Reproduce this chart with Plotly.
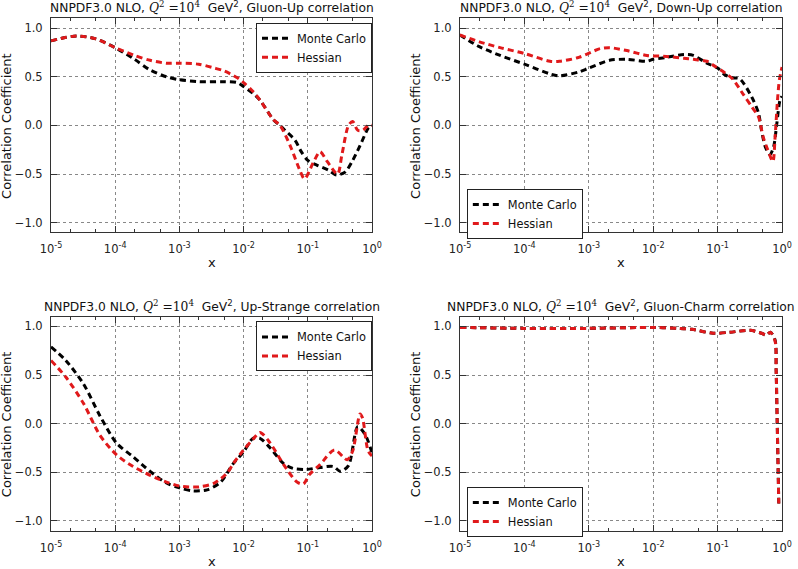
import plotly.graph_objects as go

# ---- data ----
tick_vals = [1e-5, 1e-4, 1e-3, 1e-2, 1e-1, 1e0]
tick_text = ["10<sup>-5</sup>", "10<sup>-4</sup>", "10<sup>-3</sup>",
             "10<sup>-2</sup>", "10<sup>-1</sup>", "10<sup>0</sup>"]

# Gluon-Up
gu_x_mc = [1e-5, 2.5e-5, 5e-5, 1e-4, 2e-4, 3.5e-4, 6.3e-4, 1e-3, 2e-3, 5e-3, 8e-3, 1e-2,
           1.4e-2, 1.8e-2, 2.9e-2, 3.7e-2, 4.4e-2, 6.3e-2, 7.9e-2, 0.1, 0.14, 0.21, 0.28,
           0.38, 0.5, 0.69, 0.87, 1.0]
gu_mc = [0.87, 0.92, 0.89, 0.80, 0.68, 0.57, 0.50, 0.47, 0.45, 0.45, 0.44, 0.40,
         0.33, 0.26, 0.06, 0.0, -0.05, -0.15, -0.27, -0.36, -0.41, -0.46, -0.51,
         -0.48, -0.36, -0.17, -0.03, 0.0]
gu_x_hs = [1e-5, 2.5e-5, 5e-5, 1e-4, 2e-4, 3.5e-4, 6.3e-4, 1e-3, 2e-3, 3.5e-3, 5e-3, 8e-3,
           1e-2, 1.4e-2, 1.8e-2, 2.9e-2, 3.7e-2, 5.4e-2, 7.4e-2, 8.9e-2, 0.12, 0.155, 0.2,
           0.29, 0.34, 0.43, 0.5, 0.6, 0.72, 0.87, 1.0]
gu_hs = [0.87, 0.92, 0.89, 0.80, 0.72, 0.67, 0.64, 0.64, 0.63, 0.59, 0.56, 0.49,
         0.44, 0.35, 0.26, 0.06, 0.0, -0.22, -0.45, -0.55, -0.39, -0.27, -0.37,
         -0.50, -0.30, 0.0, 0.04, -0.05, -0.05, 0.0, 0.0]

# Down-Up
du_x_mc = [1e-5, 2e-5, 4.2e-5, 1e-4, 2.5e-4, 3.5e-4, 7e-4, 1e-3, 2.1e-3, 3.9e-3, 8e-3,
           1e-2, 1.6e-2, 3e-2, 4.2e-2, 6.8e-2, 0.1, 0.13, 0.17, 0.22, 0.34, 0.43,
           0.48, 0.55, 0.65, 0.74, 0.83, 0.93, 1.0]
du_mc = [0.93, 0.81, 0.72, 0.63, 0.53, 0.51, 0.55, 0.59, 0.67, 0.68, 0.66,
         0.68, 0.70, 0.73, 0.72, 0.64, 0.59, 0.52, 0.49, 0.48, 0.29, 0.13,
         -0.05, -0.22, -0.30, -0.22, 0.02, 0.26, 0.30]
du_x_hs = [1e-5, 2e-5, 4.2e-5, 1e-4, 2.5e-4, 3.5e-4, 7e-4, 1.5e-3, 2.1e-3, 3.9e-3, 8e-3,
           1.6e-2, 3e-2, 4.2e-2, 6.8e-2, 9e-2, 0.13, 0.17, 0.25, 0.34, 0.43, 0.51,
           0.6, 0.72, 0.78, 0.85, 0.91, 1.0]
du_hs = [0.93, 0.86, 0.80, 0.74, 0.66, 0.66, 0.70, 0.79, 0.80, 0.77, 0.72,
         0.71, 0.69, 0.68, 0.66, 0.61, 0.54, 0.48, 0.32, 0.19, 0.09, -0.12,
         -0.25, -0.37, -0.12, 0.26, 0.47, 0.60]

# Up-Strange
us_x_mc = [1e-5, 1.7e-5, 3.2e-5, 5.8e-5, 1.05e-4, 1.9e-4, 3.5e-4, 6.3e-4, 1e-3,
           1.6e-3, 2.7e-3, 4.4e-3, 6.9e-3, 1e-2, 1.4e-2, 1.8e-2, 2.6e-2, 4.2e-2, 5.9e-2,
           9.5e-2, 0.155, 0.25, 0.32, 0.43, 0.6, 0.78, 1.0]
us_mc = [0.79, 0.65, 0.41, 0.08, -0.20, -0.34, -0.49, -0.61, -0.66,
         -0.69, -0.68, -0.60, -0.41, -0.29, -0.15, -0.15, -0.25, -0.41, -0.46,
         -0.47, -0.45, -0.44, -0.49, -0.43, -0.03, -0.11, -0.30]
us_x_hs = [1e-5, 1.7e-5, 3.2e-5, 5.8e-5, 1.05e-4, 1.9e-4, 3.5e-4, 6.3e-4, 1e-3,
           2e-3, 3.5e-3, 5.5e-3, 6.9e-3, 1e-2, 1.4e-2, 1.8e-2, 2.6e-2, 4.2e-2, 6.8e-2,
           8.5e-2, 0.107, 0.155, 0.26, 0.41, 0.5, 0.65, 0.71, 0.87, 1.0]
us_hs = [0.65, 0.48, 0.21, -0.12, -0.32, -0.44, -0.53, -0.60, -0.64,
         -0.65, -0.61, -0.51, -0.41, -0.27, -0.16, -0.09, -0.20, -0.42, -0.60,
         -0.62, -0.52, -0.42, -0.27, -0.37, -0.28, 0.10, 0.06, -0.28, -0.33]

# Gluon-Charm
gc_x = [1e-5, 1e-4, 1e-3, 1e-2, 2.5e-2, 4e-2, 8.5e-2, 0.155, 0.32, 0.48, 0.57, 0.66,
        0.78, 0.81, 0.84, 0.87, 0.89]
gc_mc = [0.99, 0.98, 0.98, 0.99, 0.98, 0.97, 0.93, 0.94, 0.96, 0.93, 0.91, 0.94,
         0.86, 0.55, 0.04, -0.48, -0.82]
gc_hs = [0.99, 0.98, 0.98, 0.99, 0.98, 0.97, 0.93, 0.94, 0.96, 0.93, 0.91, 0.94,
         0.85, 0.55, 0.04, -0.48, -0.82]

panels = [
    ("Gluon-Up", gu_x_mc, gu_mc, gu_x_hs, gu_hs),
    ("Down-Up", du_x_mc, du_mc, du_x_hs, du_hs),
    ("Up-Strange", us_x_mc, us_mc, us_x_hs, us_hs),
    ("Gluon-Charm", gc_x, gc_mc, gc_x, gc_hs),
]

FONT = "DejaVu Sans"
RED = "#e0191b"

# panel placement (paper fractions)
xdoms = [[0.0639, 0.4662], [0.5764, 0.9800]]
ydoms = [[0.5916, 0.9675], [0.0673, 0.4434]]
legend_pos = [(0.3208, 0.9600), (0.585, 0.668), (0.3208, 0.4350), (0.585, 0.1440)]

fig = go.Figure()
layout = {}

for i, (name, xm, ym, xh, yh) in enumerate(panels):
    n = "" if i == 0 else str(i + 1)
    leg = "legend" if i == 0 else "legend" + str(i + 1)
    row, col = i // 2, i % 2

    fig.add_trace(go.Scatter(
        x=xm, y=ym, mode="lines", name="Monte Carlo",
        line=dict(color="black", width=3, dash="6px,4px", shape="spline", smoothing=0.8),
        xaxis="x" + n, yaxis="y" + n, legend=leg))
    fig.add_trace(go.Scatter(
        x=xh, y=yh, mode="lines", name="Hessian",
        line=dict(color=RED, width=3, dash="6px,4px", shape="spline", smoothing=0.8),
        xaxis="x" + n, yaxis="y" + n, legend=leg))

    layout["xaxis" + n] = dict(
        type="log", range=[-5, 0], domain=xdoms[col], anchor="y" + n,
        tickvals=tick_vals, ticktext=tick_text,
        ticks="inside", ticklen=6, tickcolor="#333",
        minor=dict(ticks="inside", ticklen=3, tickcolor="#333", showgrid=False),
        showline=True, linecolor="#333", linewidth=1, mirror="allticks",
        showgrid=True, gridcolor="#888", griddash="dot", gridwidth=1,
        zeroline=False, automargin=False, ticklabelstandoff=6,
        tickfont=dict(family=FONT, size=11.5, color="#222"))
    layout["yaxis" + n] = dict(
        range=[-1.1, 1.1], domain=ydoms[row], anchor="x" + n,
        tickvals=[-1.0, -0.5, 0.0, 0.5, 1.0], tickformat=".1f",
        ticks="inside", ticklen=6, tickcolor="#333",
        showline=True, linecolor="#333", linewidth=1, mirror="allticks",
        showgrid=True, gridcolor="#888", griddash="dot", gridwidth=1,
        zeroline=False, automargin=False, ticklabelstandoff=5,
        tickfont=dict(family=FONT, size=11.5, color="#222"))

    lx, ly = legend_pos[i]
    layout[leg] = dict(
        x=lx, y=ly, xanchor="left", yanchor="top",
        bgcolor="white", bordercolor="#222", borderwidth=1,
        font=dict(family=FONT, size=11.4, color="#111"),
        itemwidth=30, tracegroupgap=0)

fig.update_layout(**layout)

annotations = []
for i, (name, *_rest) in enumerate(panels):
    n = "" if i == 0 else str(i + 1)
    title = ("NNPDF3.0 NLO, <span style=\"font-family:'DejaVu Serif'\"><i>Q</i><sup>2</sup>"
             " =10<sup>4</sup></span>  GeV<sup>2</sup>, " + name + " correlation")
    annotations.append(dict(
        text=title, xref="x" + n + " domain", yref="y" + n + " domain",
        x=0.5, y=1, yanchor="bottom", yshift=1, showarrow=False,
        font=dict(family=FONT, size=12.3, color="#111")))
    annotations.append(dict(
        text="x", xref="x" + n + " domain", yref="y" + n + " domain",
        x=0.5, y=0, yanchor="top", yshift=-21, showarrow=False,
        font=dict(family=FONT, size=13, color="#111")))
    annotations.append(dict(
        text="Correlation Coefficient", xref="x" + n + " domain", yref="y" + n + " domain",
        x=0, y=0.5, xanchor="right", xshift=-35, textangle=-90, showarrow=False,
        font=dict(family=FONT, size=13, color="#111")))

fig.update_layout(
    annotations=annotations,
    width=798, height=569,
    margin=dict(l=0, r=0, t=0, b=0, autoexpand=False),
    paper_bgcolor="white", plot_bgcolor="white",
    showlegend=True,
)

# the page body has a default 8px margin; drop it so the figure sits at the corner
fig.write_html("out.html", config={"displayModeBar": False},
               post_script="document.body.style.margin='0';document.body.style.overflow='hidden';")
